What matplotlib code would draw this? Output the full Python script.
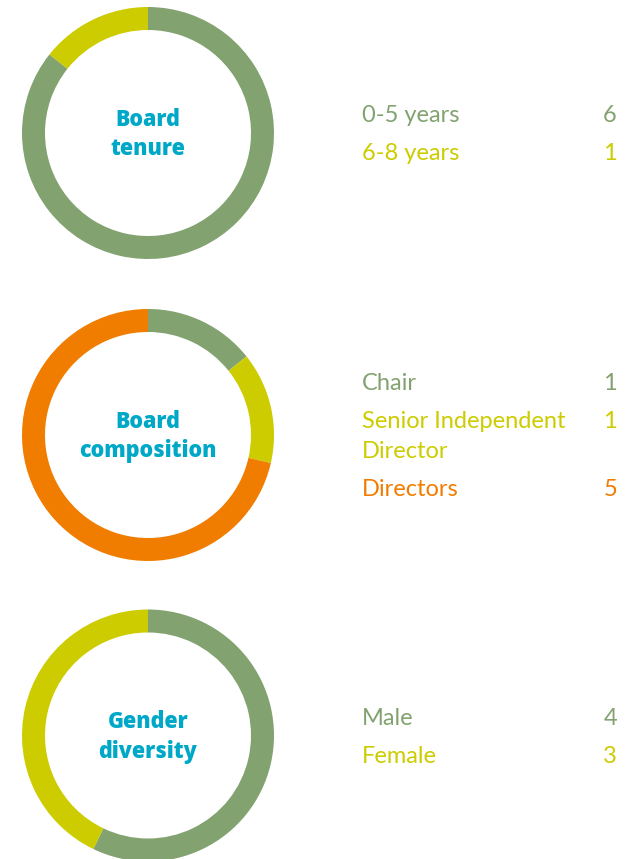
import matplotlib.pyplot as plt

# data
tenure_labels = ["0-5 years", "6-8 years"]
tenure_values = [6, 1]

composition_labels = ["Chair", "Senior Independent\nDirector", "Directors"]
composition_values = [1, 1, 5]

gender_labels = ["Male", "Female"]
gender_values = [4, 3]

titles = ["Board\ntenure", "Board\ncomposition", "Gender\ndiversity"]

GREEN = "#82a270"
YELLOW = "#cccc00"
ORANGE = "#f07d00"
BLUE = "#00a8c8"

W, H = 644, 859
fig = plt.figure(figsize=(W / 100, H / 100), dpi=100)
ax = fig.add_axes([0, 0, 1, 1])

panels = [
    (tenure_labels, tenure_values, [GREEN, YELLOW], 133),
    (composition_labels, composition_values, [GREEN, YELLOW, ORANGE], 435),
    (gender_labels, gender_values, [GREEN, YELLOW], 735.5),
]

cx, r_out, ring = 148, 126, 23
ITEM_GAP, WRAP_GAP = 38, 30
for (labels, values, colors, cy), title in zip(panels, titles):
    ax.pie(values, colors=colors, startangle=90, counterclock=False,
           center=(cx, H - cy), radius=r_out, frame=True,
           wedgeprops=dict(width=ring, linewidth=0))

    # centre title, two lines, baselines in pixel rows
    t1, t2 = title.split("\n")
    for txt, base in ((t1, cy - 7), (t2, cy + 22)):
        ax.text(cx, H - base, txt, ha="center", va="baseline", color=BLUE,
                fontsize=15.5, fontweight=800, family="Open Sans")

    # legend block on the right, centred on the donut
    span = sum(ITEM_GAP + WRAP_GAP * lab.count("\n") for lab in labels) - ITEM_GAP
    row = cy - span / 2 - 0.5
    for lab, val, col in zip(labels, values, colors):
        ax.text(617, H - (row + 9), str(val), ha="right", va="baseline",
                color=col, fontsize=17, family="Lato")
        for line in lab.split("\n"):
            ax.text(362, H - (row + 9), line, ha="left", va="baseline",
                    color=col, fontsize=17, family="Lato")
            row += WRAP_GAP
        row += ITEM_GAP - WRAP_GAP

ax.set_xlim(0, W)
ax.set_ylim(0, H)
ax.set_aspect("equal")
ax.axis("off")
fig.savefig("out.png", dpi=100)
